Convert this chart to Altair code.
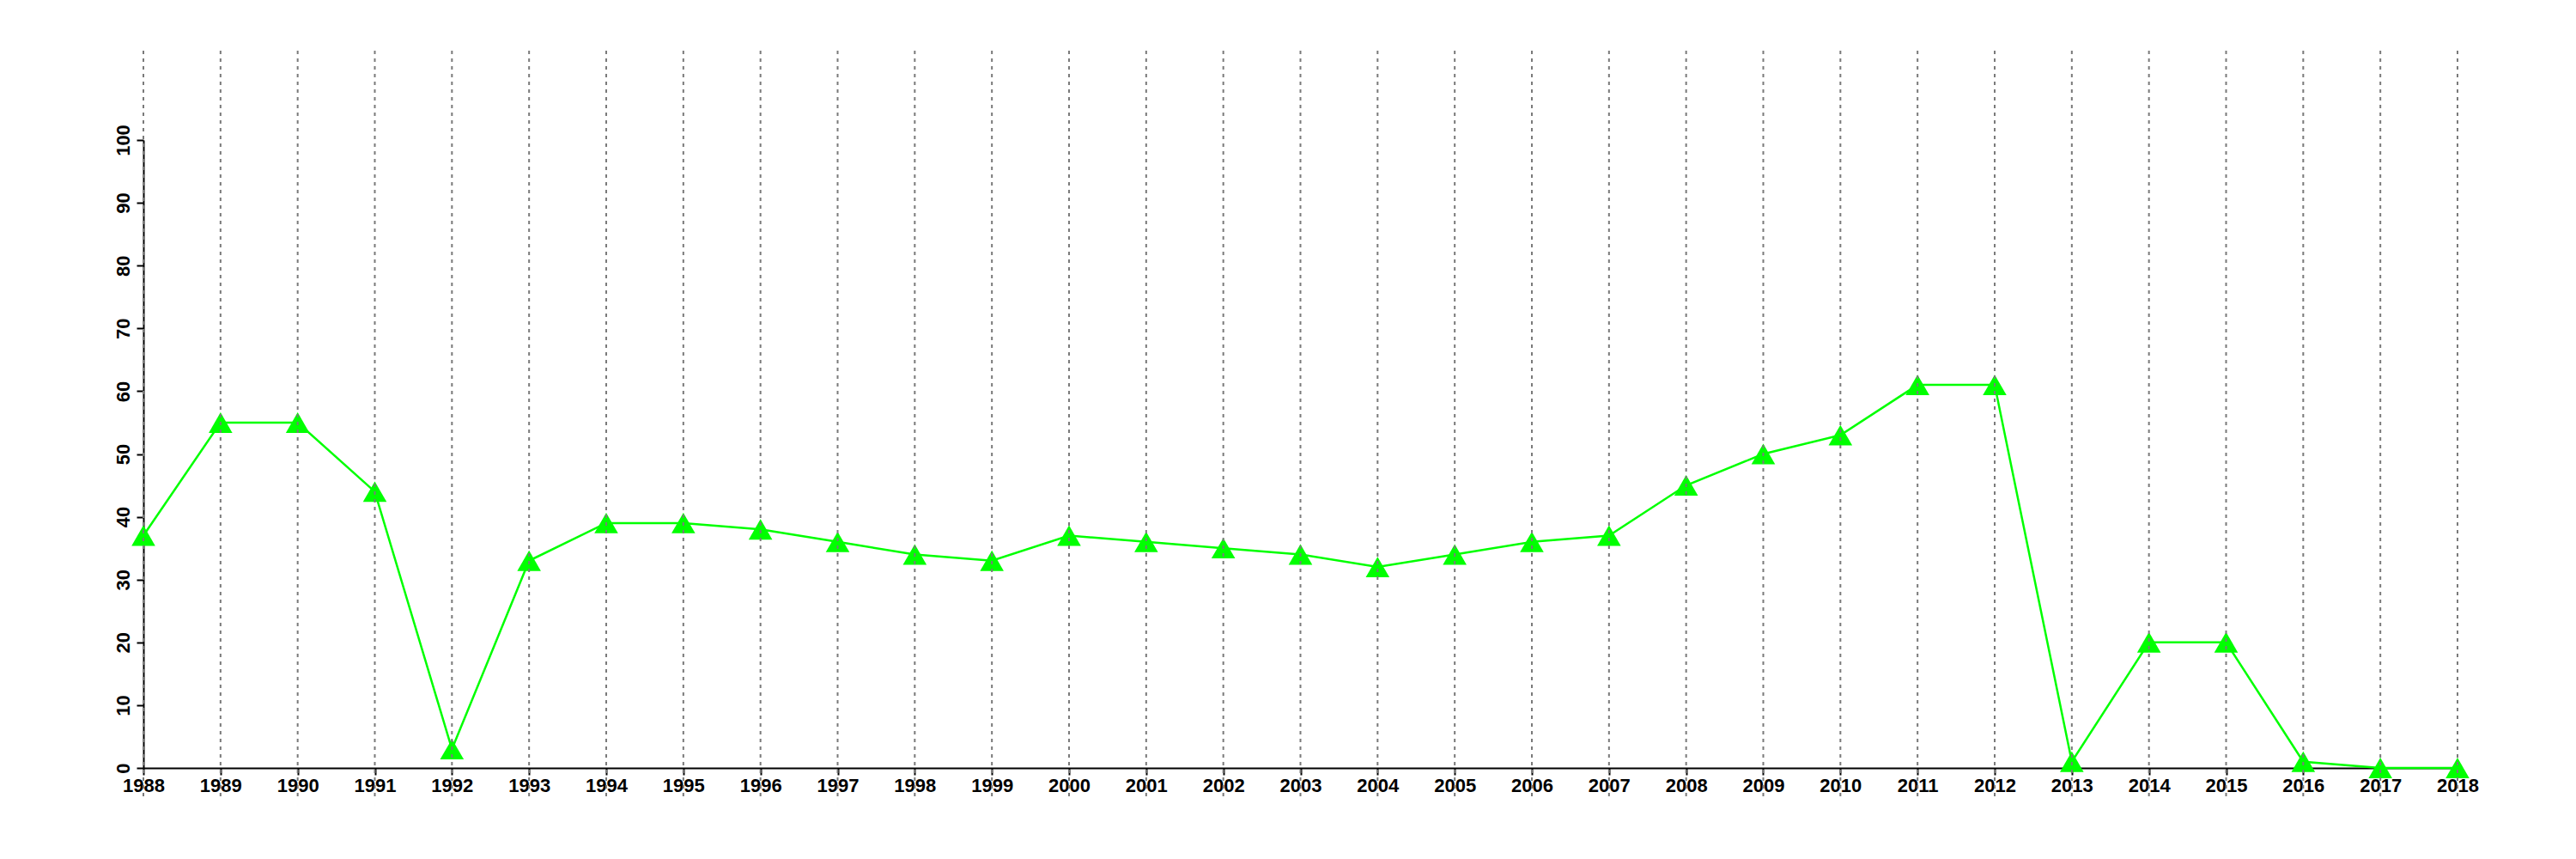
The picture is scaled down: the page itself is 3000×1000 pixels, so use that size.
import altair as alt
import pandas as pd

years = list(range(1988, 2019))
values = [37, 55, 55, 44, 3, 33, 39, 39, 38, 36, 34, 33, 37, 36, 35, 34, 32, 34, 36, 37,
          45, 50, 53, 61, 61, 1, 20, 20, 1, 0, 0]
y_ticks = [0, 10, 20, 30, 40, 50, 60, 70, 80, 90, 100]

df = pd.DataFrame({"year": years, "value": values})
grid_df = pd.DataFrame({"year": years, "lo": [-4.5] * len(years), "hi": [114.3] * len(years)})

xs = alt.Scale(domain=[1988, 2018], nice=False, zero=False)
ys = alt.Scale(domain=[0, 100], nice=False)

x_axis = alt.Axis(values=years, format="d", grid=False, domainColor="black", domainWidth=2,
                  tickColor="black", tickWidth=2, tickSize=8, labelFontSize=22,
                  labelFont="Liberation Sans", labelFontWeight="bold", labelColor="black",
                  labelPadding=2, labelFlush=False, labelOverlap=False, title=None)
y_axis = alt.Axis(values=y_ticks, grid=False, domainColor="black", domainWidth=2,
                  tickColor="black", tickWidth=2, tickSize=8, labelFontSize=22,
                  labelFont="Liberation Sans", labelFontWeight="bold", labelColor="black",
                  labelAngle=270, labelAlign="center", labelBaseline="bottom",
                  labelPadding=4, labelFlush=False, labelOverlap=False, title=None)

line = alt.Chart(df).mark_line(color="#00FF00", strokeWidth=2.5).encode(
    x=alt.X("year:Q", scale=xs, axis=x_axis),
    y=alt.Y("value:Q", scale=ys, axis=y_axis),
)

points = alt.Chart(df).mark_point(shape="triangle-up", filled=True, color="#00FF00",
                                  size=760, opacity=1).encode(
    x=alt.X("year:Q", scale=xs),
    y=alt.Y("value:Q", scale=ys),
)

grid = alt.Chart(grid_df).mark_rule(color="#7a7a7a", strokeWidth=2, strokeDash=[4, 5]).encode(
    x=alt.X("year:Q", scale=xs),
    y=alt.Y("lo:Q", scale=ys),
    y2="hi:Q",
)

chart = alt.layer(line, points, grid).properties(
    width=2695, height=731,
    autosize=alt.AutoSizeParams(type="none"),
    padding={"left": 159, "top": 155, "right": 130, "bottom": 96},
    background="white",
).configure_view(stroke="transparent", strokeWidth=0)

chart.save("out.html", embed_options={"renderer": "svg", "actions": False})
